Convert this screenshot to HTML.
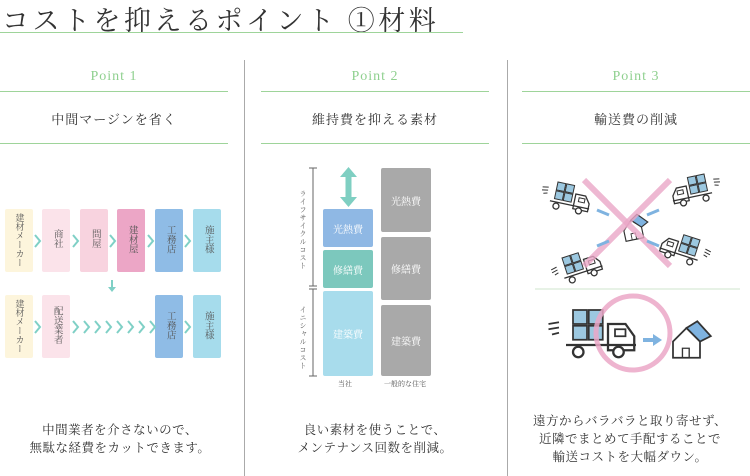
<!DOCTYPE html>
<html><head><meta charset="utf-8">
<style>
*{margin:0;padding:0;box-sizing:border-box}
body{width:750px;height:476px;background:#fff;position:relative;overflow:hidden;font-family:"Liberation Serif","Noto Serif CJK SC",serif;color:#444}
.a{position:absolute}
.title{left:2px;top:-1px;font-size:27px;letter-spacing:3.5px;color:#333;white-space:nowrap}
.hl{height:1px;background:#9ed49a}
.vl{width:1px;background:#aaa;top:60px;height:416px}
.pt{font-size:14px;color:#8fd08f;text-align:center;letter-spacing:1px}
.sub{font-size:13px;text-align:center;color:#333;letter-spacing:1px}
.box{position:absolute;writing-mode:vertical-rl;font-size:9.5px;display:flex;align-items:center;justify-content:flex-start;padding-top:7px;color:#555;border-radius:2px;line-height:1;white-space:nowrap}
.desc{font-size:12.5px;text-align:center;line-height:18px;color:#333;letter-spacing:0.5px}
.wb{position:absolute;color:#fff;font-size:10px;display:flex;align-items:center;justify-content:center;border-radius:2px}
</style></head><body>
<div class="a title">コストを抑えるポイント ①材料</div>
<div class="a hl" style="left:0;top:32px;width:463px"></div>
<div class="a vl" style="left:244px"></div>
<div class="a vl" style="left:507px"></div>

<div class="a pt" style="left:0;top:69px;width:228px">Point 1</div>
<div class="a pt" style="left:261px;top:69px;width:228px">Point 2</div>
<div class="a pt" style="left:522px;top:69px;width:228px">Point 3</div>
<div class="a hl" style="left:0;top:91px;width:228px"></div>
<div class="a hl" style="left:261px;top:91px;width:228px"></div>
<div class="a hl" style="left:522px;top:91px;width:228px"></div>
<div class="a sub" style="left:0;top:109px;width:228px">中間マージンを省く</div>
<div class="a sub" style="left:261px;top:109px;width:228px">維持費を抑える素材</div>
<div class="a sub" style="left:522px;top:109px;width:228px">輸送費の削減</div>
<div class="a hl" style="left:0;top:143px;width:228px"></div>
<div class="a hl" style="left:261px;top:143px;width:228px"></div>
<div class="a hl" style="left:522px;top:143px;width:228px"></div>

<!-- column 1 -->
<div class="box" style="left:5px;top:209px;width:28px;height:63px;background:#fdf5dc;padding-top:4px;font-size:9px">建材メーカー</div>
<div class="box" style="left:42px;top:209px;width:28px;height:63px;background:#fbe3ea;padding-top:20px">商社</div>
<div class="box" style="left:80px;top:209px;width:28px;height:63px;background:#f8d3df;padding-top:20px">問屋</div>
<div class="box" style="left:117px;top:209px;width:28px;height:63px;background:#eca6c6;padding-top:16px">建材屋</div>
<div class="box" style="left:155px;top:209px;width:28px;height:63px;background:#8fbce6;padding-top:16px">工務店</div>
<div class="box" style="left:193px;top:209px;width:28px;height:63px;background:#a6dcec;padding-top:16px">施主様</div>
<div class="box" style="left:5px;top:295px;width:28px;height:63px;background:#fdf5dc;padding-top:4px;font-size:9px">建材メーカー</div>
<div class="box" style="left:42px;top:295px;width:28px;height:63px;background:#fbe3ea;padding-top:11px">配送業者</div>
<div class="box" style="left:155px;top:295px;width:28px;height:63px;background:#8fbce6;padding-top:16px">工務店</div>
<div class="box" style="left:193px;top:295px;width:28px;height:63px;background:#a6dcec;padding-top:16px">施主様</div>
<svg class="a" style="left:0;top:200px" width="240" height="170" fill="none" stroke="#7fd0c6" stroke-width="2">
<g id="c"><polyline points="35,35 40,41 35,47"/></g>
<use href="#c" x="38"/><use href="#c" x="75"/><use href="#c" x="113"/><use href="#c" x="150"/>
<use href="#c" y="86"/>
<use href="#c" x="38" y="86"/><use href="#c" x="49" y="86"/><use href="#c" x="60" y="86"/><use href="#c" x="71" y="86"/><use href="#c" x="82" y="86"/><use href="#c" x="93" y="86"/><use href="#c" x="104" y="86"/><use href="#c" x="115" y="86"/>
<use href="#c" x="150" y="86"/>
<line x1="112" y1="80" x2="112" y2="88"/>
<polygon points="108,87 116,87 112,92" fill="#7fd0c6" stroke="none"/>
</svg>
<div class="a desc" style="left:0;top:421px;width:240px">中間業者を介さないので、<br>無駄な経費をカットできます。</div>

<!-- column 2 -->
<svg class="a" style="left:300px;top:165px" width="20" height="215">
<line x1="13" y1="3" x2="13" y2="121" stroke="#666"/><line x1="9" y1="3" x2="17" y2="3" stroke="#666"/>
<line x1="9" y1="121" x2="17" y2="121" stroke="#666"/><line x1="9" y1="124" x2="17" y2="124" stroke="#666"/>
<line x1="13" y1="124" x2="13" y2="211" stroke="#666"/><line x1="9" y1="211" x2="17" y2="211" stroke="#666"/>
</svg>
<div class="a" style="left:298px;top:190px;writing-mode:vertical-rl;font-size:7px;letter-spacing:1px;color:#555">ライフサイクルコスト</div>
<div class="a" style="left:298px;top:306px;writing-mode:vertical-rl;font-size:7px;letter-spacing:1px;color:#555">イニシャルコスト</div>
<svg class="a" style="left:340px;top:167px" width="17" height="40"><polygon points="8.5,0 17,10 11.5,10 11.5,30 17,30 8.5,40 0,30 5.5,30 5.5,10 0,10" fill="#7fcfc2"/></svg>
<div class="wb" style="left:323px;top:209px;width:50px;height:38px;background:#8fb8e4">光熱費</div>
<div class="wb" style="left:323px;top:250px;width:50px;height:38px;background:#7cc8bd">修繕費</div>
<div class="wb" style="left:323px;top:291px;width:50px;height:85px;background:#a8dcec">建築費</div>
<div class="wb" style="left:381px;top:168px;width:50px;height:64px;background:#a9a9a9">光熱費</div>
<div class="wb" style="left:381px;top:237px;width:50px;height:63px;background:#a9a9a9">修繕費</div>
<div class="wb" style="left:381px;top:305px;width:50px;height:71px;background:#a9a9a9">建築費</div>
<div class="a" style="left:338px;top:379px;font-size:7px;color:#555">当社</div>
<div class="a" style="left:384px;top:379px;font-size:7px;color:#555">一般的な住宅</div>
<div class="a desc" style="left:250px;top:421px;width:250px">良い素材を使うことで、<br>メンテナンス回数を削減。</div>

<!-- column 3 -->
<svg class="a" style="left:522px;top:160px" width="228" height="220">
<defs>
<g id="tr">
<rect x="0" y="0" width="8" height="8" fill="#9cc8e0" stroke="#333" stroke-width="1"/>
<rect x="9" y="0" width="8" height="8" fill="#9cc8e0" stroke="#333" stroke-width="1"/>
<rect x="0" y="9" width="8" height="8" fill="#9cc8e0" stroke="#333" stroke-width="1"/>
<rect x="9" y="9" width="8" height="8" fill="#9cc8e0" stroke="#333" stroke-width="1"/>
<path d="M20 8 h10 l5 7 v8 h-15z" fill="#fff" stroke="#333" stroke-width="1.3"/>
<rect x="24" y="11" width="6" height="4" fill="none" stroke="#333"/>
<line x1="-4" y1="20" x2="36" y2="20" stroke="#333" stroke-width="1.3"/>
<circle cx="3" cy="24" r="3" fill="#fff" stroke="#333" stroke-width="1.3"/>
<circle cx="26" cy="24" r="3" fill="#fff" stroke="#333" stroke-width="1.3"/>
<line x1="-14" y1="8" x2="-8" y2="7" stroke="#333"/><line x1="-14" y1="11" x2="-8" y2="10" stroke="#333"/><line x1="-12" y1="14" x2="-8" y2="13" stroke="#333"/>
</g>
<g id="hs"><path d="M0 10 L10 0 L20 10 V22 H0Z" fill="#fff" stroke="#333" stroke-width="1.3"/><path d="M10 0 L18 -5 L28 6 L20 10Z" fill="#7fb3e0" stroke="#333" stroke-width="1.3"/><path d="M7 22 v-7 h5 v7" fill="none" stroke="#333"/></g>
</defs>
<use href="#tr" transform="translate(36,22) rotate(12)"/>
<use href="#tr" transform="translate(182,14) scale(-1,1) rotate(12)"/>
<use href="#tr" transform="translate(40,98) rotate(-18)"/>
<use href="#tr" transform="translate(178,80) scale(-1,1) rotate(-18)"/>
<use href="#hs" transform="translate(100,62) rotate(-12) scale(0.9)"/>
<line x1="62" y1="20" x2="148" y2="106" stroke="#eba7c7" stroke-width="6" opacity="0.8"/>
<line x1="148" y1="20" x2="62" y2="106" stroke="#eba7c7" stroke-width="6" opacity="0.8"/>
<path d="M75 50 l12 5" stroke="#7fb3e0" stroke-width="3"/><path d="M137 50 l-12 5" stroke="#7fb3e0" stroke-width="3"/>
<path d="M75 86 l12 -5" stroke="#7fb3e0" stroke-width="3"/><path d="M137 86 l-12 -5" stroke="#7fb3e0" stroke-width="3"/>
<line x1="13" y1="129" x2="218" y2="129" stroke="#cfe6cc"/>
<g transform="translate(51,150) scale(1.75)"><use href="#tr"/></g>
<circle cx="111" cy="173" r="37" fill="none" stroke="#eba7c7" stroke-width="5" opacity="0.85"/>
<path d="M121 180 h12" stroke="#7fb3e0" stroke-width="4"/><polygon points="131,174 140,180 131,186" fill="#7fb3e0"/>
<g transform="translate(151,168) scale(1.35)"><use href="#hs"/></g>
</svg>
<div class="a desc" style="left:510px;top:412px;width:240px">遠方からバラバラと取り寄せず、<br>近隣でまとめて手配することで<br>輸送コストを大幅ダウン。</div>
</body></html>
